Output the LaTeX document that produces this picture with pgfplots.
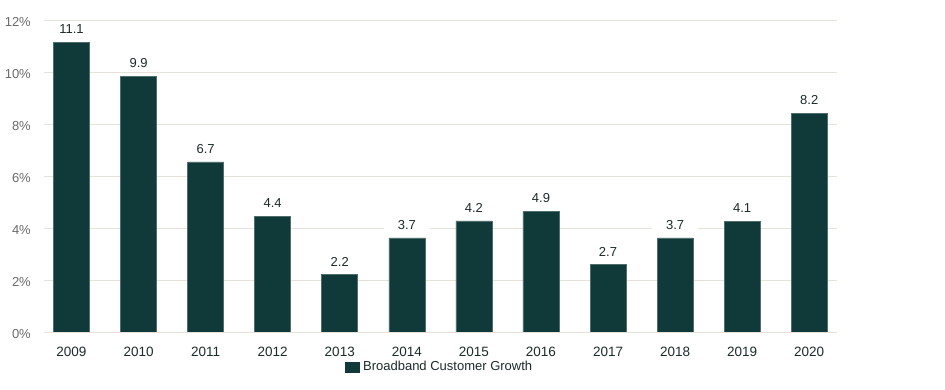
\documentclass[border=0pt]{standalone}
\usepackage{fontspec}
\setmainfont{Liberation Sans}
\usepackage{pgfplots}
\pgfplotsset{compat=1.18}
\definecolor{barfill}{HTML}{10393A}
\definecolor{baredge}{HTML}{4F6E6C}
\definecolor{gridc}{HTML}{E6E2DA}
\definecolor{ytxt}{HTML}{6A6A6A}
\definecolor{xtxt}{HTML}{1C2B2A}
\begin{document}
\begin{tikzpicture}
\path[use as bounding box] (0pt,0pt) rectangle (945pt,390pt);
\begin{axis}[
  at={(44pt,58pt)}, anchor=south west,
  scale only axis,
  width=792.7pt, height=312pt,
  xmin=-0.41, xmax=11.41,
  ymin=0, ymax=12,
  axis line style={draw=none},
  tick style={draw=none},
  ytick={0,2,4,6,8,10,12},
  yticklabels={0\%,2\%,4\%,6\%,8\%,10\%,12\%},
  xtick={0,...,11},
  xticklabels={2009,2010,2011,2012,2013,2014,2015,2016,2017,2018,2019,2020},
  ymajorgrids,
  grid style={gridc, line width=0.8pt},
  yticklabel style={anchor=east, inner sep=0pt, xshift=-13pt, yshift=-2pt, text=ytxt, font=\fontsize{13}{15}\selectfont},
  xticklabel style={anchor=north, inner sep=0pt, yshift=-11pt, text=xtxt, font=\fontsize{13.5}{15}\selectfont},
  ybar, bar width=36pt,
  point meta=explicit symbolic,
  nodes near coords,
  nodes near coords style={anchor=south, fill=white, inner ysep=2pt, minimum width=46pt, yshift=6pt, text=xtxt, font=\fontsize{13}{15}\selectfont},
  legend style={draw=none, at={(0.5,0)}, anchor=center, yshift=-35pt, font=\fontsize{13}{15}\selectfont, text=xtxt, inner sep=0pt, nodes={inner xsep=4pt, inner ysep=1pt}},
  legend image code/.code={\fill[barfill] (0pt,-5pt) rectangle (14pt,5pt);},
]
\addplot[fill=barfill, draw=baredge, line width=0.6pt] coordinates {
  (0,11.15) [11.1]
  (1,9.83) [9.9]
  (2,6.54) [6.7]
  (3,4.46) [4.4]
  (4,2.20) [2.2]
  (5,3.62) [3.7]
  (6,4.27) [4.2]
  (7,4.65) [4.9]
  (8,2.60) [2.7]
  (9,3.62) [3.7]
  (10,4.26) [4.1]
  (11,8.41) [8.2]
};
\addlegendentry{Broadband Customer Growth}
\end{axis}
\end{tikzpicture}
\end{document}
